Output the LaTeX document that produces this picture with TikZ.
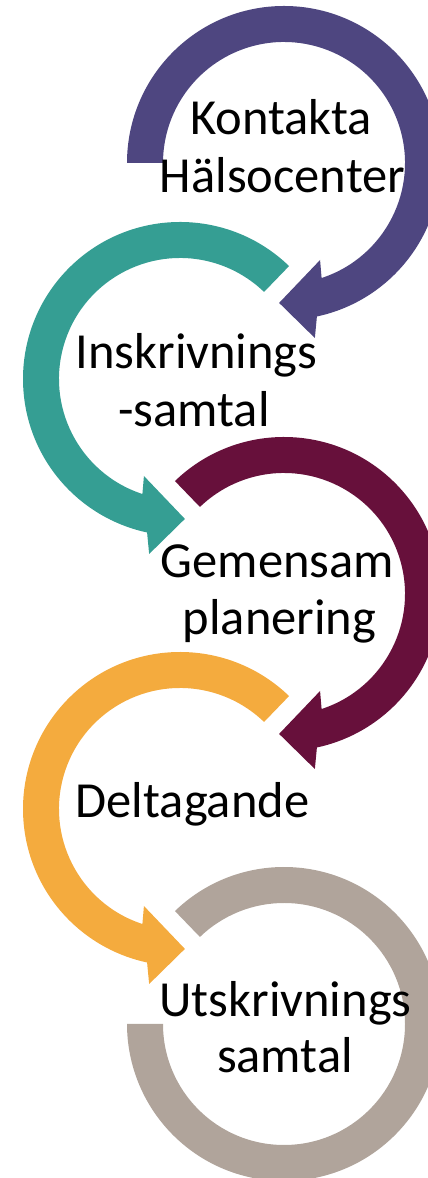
\documentclass[tikz,border=0pt]{standalone}
\usepackage{fontspec}
\setmainfont{Carlito}
\definecolor{cpurple}{HTML}{4E4680}
\definecolor{cteal}{HTML}{359E93}
\definecolor{cmaroon}{HTML}{67103B}
\definecolor{corange}{HTML}{F4AB3E}
\definecolor{cgray}{HTML}{B0A49B}
\newcommand\ringarrow[1]{(#1:157) arc[start angle=#1, end angle=-77.9, radius=157] -- (-80:177.7) -- (-92:140) -- (-69.6:103.5) -- (-71.9:121) arc[start angle=-71.9, end angle=#1, radius=121] -- cycle}
\begin{document}
\begin{tikzpicture}[x=1pt,y=1pt,
  lbl/.style={anchor=base, inner sep=0pt, font=\fontsize{50.5}{58}\selectfont}]
\useasboundingbox (0,0) rectangle (428,1178);
\clip (0,0) rectangle (428,1178);
\begin{scope}[shift={(284,1015)}]
  \fill[cpurple] \ringarrow{180};
\end{scope}
\begin{scope}[shift={(180,799)}, xscale=-1]
  \fill[cteal] \ringarrow{134};
\end{scope}
\begin{scope}[shift={(284,584)}]
  \fill[cmaroon] \ringarrow{134};
\end{scope}
\begin{scope}[shift={(180,369)}, xscale=-1]
  \fill[corange] \ringarrow{134};
\end{scope}
\begin{scope}[shift={(284,154)}]
  \fill[cgray] (134:157) arc[start angle=134, end angle=-180, radius=157] -- (180:121) arc[start angle=-180, end angle=134, radius=121] -- cycle;
\end{scope}
\node[lbl] (kontakta) at (281,1043) {Kontakta};
\node[lbl] (halso) at (282.5,985) {Hälsocenter};
\node[lbl] (inskr) at (196.5,809) {Inskrivnings};
\node[lbl] (insam) at (194,751) {-samtal};
\node[lbl] (gemen) at (277.5,600) {Gemensam};
\node[lbl] (plan) at (279.5,543) {planering};
\node[lbl] (delta) at (192.5,360) {Deltagande};
\node[lbl] (utskr) at (285.5,161) {Utskrivnings};
\node[lbl] (utsam) at (285,105) {samtal};
\end{tikzpicture}
\end{document}
